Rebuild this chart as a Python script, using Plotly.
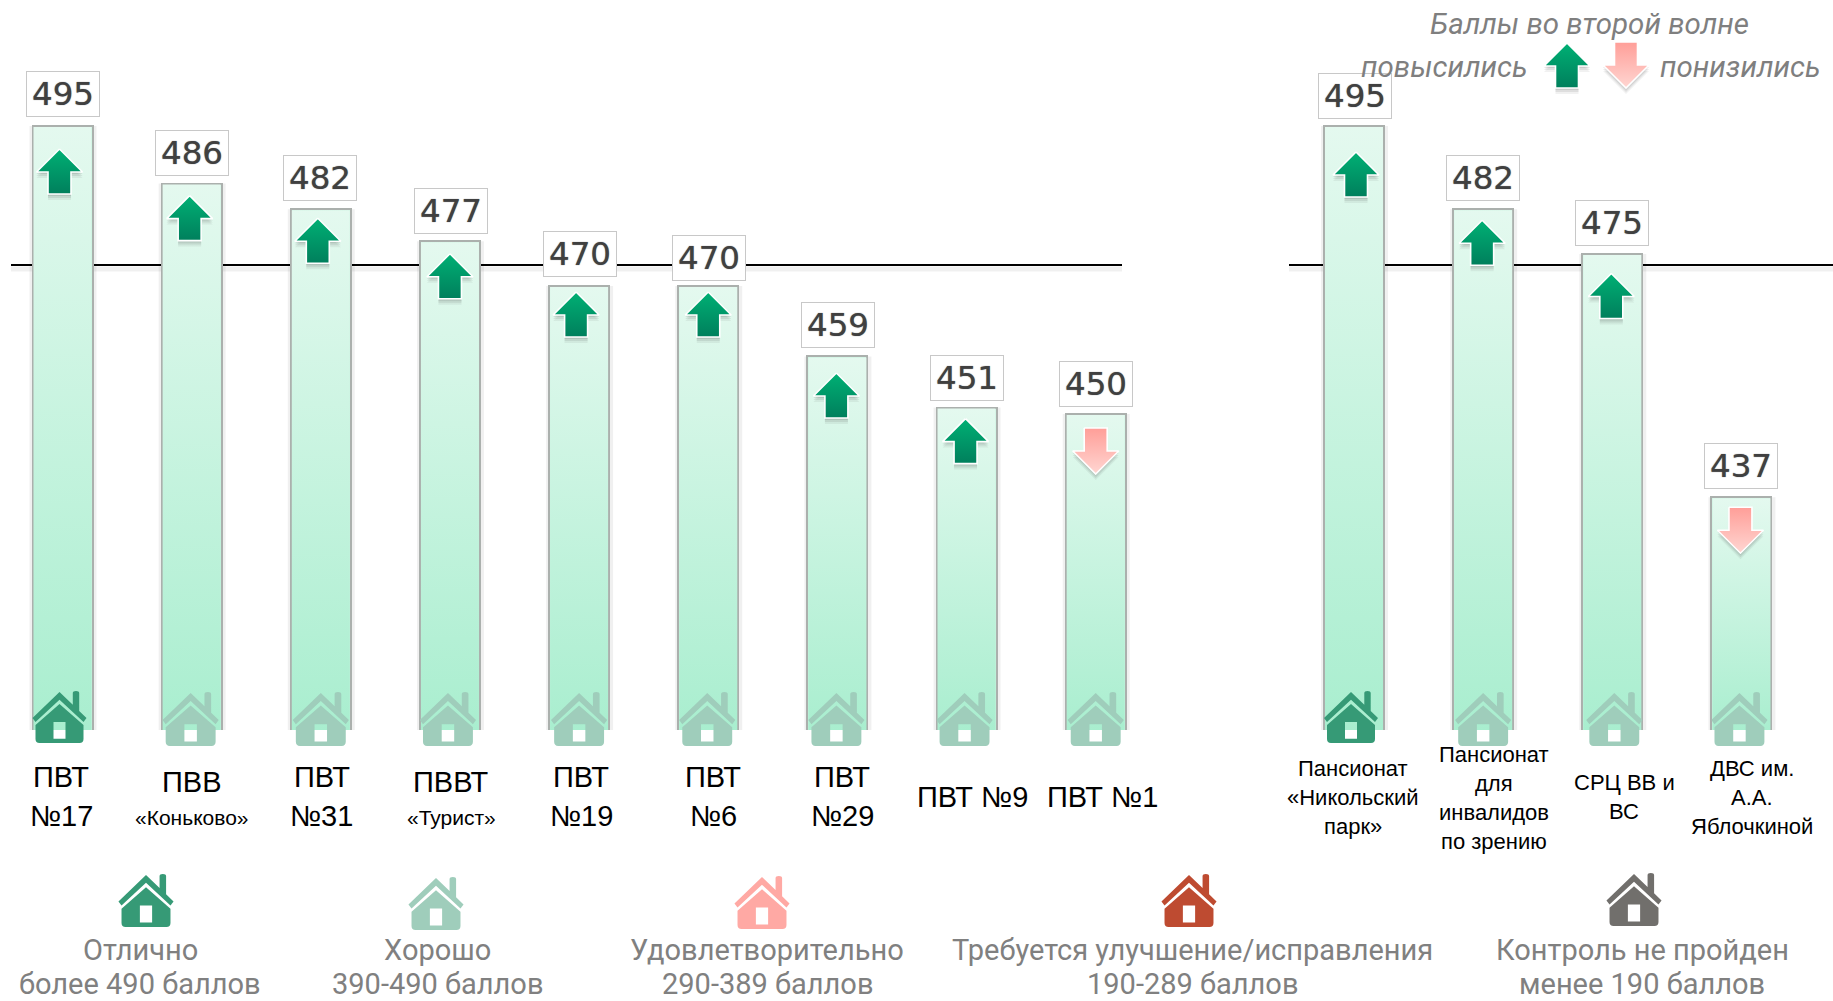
import plotly.graph_objects as go

# ---------- data ----------
left_categories = ["ПВТ<br>№17", "ПВВ<br>«Коньково»", "ПВТ<br>№31", "ПВВТ<br>«Турист»", "ПВТ<br>№19", "ПВТ<br>№6",
                   "ПВТ<br>№29", "ПВТ №9", "ПВТ №1"]
left_values = [495, 486, 482, 477, 470, 470, 459, 451, 450]
left_trend = ["up", "up", "up", "up", "up", "up", "up", "up", "down"]
left_grade = ["Отлично", "Хорошо", "Хорошо", "Хорошо", "Хорошо", "Хорошо", "Хорошо", "Хорошо", "Хорошо"]

right_categories = ["Пансионат<br>«Никольский<br>парк»", "Пансионат<br>для<br>инвалидов<br>по зрению",
                    "СРЦ ВВ и<br>ВС", "ДВС им.<br>А.А.<br>Яблочкиной"]
right_values = [495, 482, 475, 437]
right_trend = ["up", "up", "up", "down"]
right_grade = ["Отлично", "Хорошо", "Хорошо", "Хорошо"]

threshold_value = 473.3

grade_names = ["Отлично", "Хорошо", "Удовлетворительно", "Требуется улучшение/исправления", "Контроль не пройден"]
grade_ranges = ["более 490 баллов", "390-490 баллов", "290-389 баллов", "190-289 баллов", "менее 190 баллов"]
grade_colors = ["#369A76", "#9FCDBB", "#FFA9A4", "#BE4B31", "#716F6C"]

# ---------- layout tuning (pixels on the 1833x1001 canvas) ----------
W, H = 1833, 1001
SLOT = 129.15            # px per category slot
FIRST_CENTRE = 62.5
BAR_BOTTOM_PX = 730
PX_PER_POINT = 6.4
TOP_VALUE = 495 + 126 / PX_PER_POINT
LOW_VALUE = TOP_VALUE - BAR_BOTTOM_PX / PX_PER_POINT

LABEL_FONT = "Liberation Sans"
LEGEND_FONT = "Roboto"

categories = left_categories + [""] + right_categories
values = left_values + [None] + right_values
trends = left_trend + [None] + right_trend
grades = left_grade + [None] + right_grade
slots = list(range(len(categories)))

arrow_dx = [-3, -2, -3, 0, -3, 0, -1, -1, 0, 0, 2, -1, -1, -1]
arrow_gap = [23, 12, 9, 12.5, 6, 6, 16.6, 11, 14, 0, 26, 11, 19.5, 10]
box_dx = [0, 0, -1, 1, 1, 1, 1, 0, 0, 0, 1, 0, 0, 0]
box_gap = [9, 8, 8, 7, 9, 5.5, 8, 6.6, 7, 0, 7, 8, 8, 8]
label_dx = [-1.5, 0, 1, 1.5, 2, 5, 5, 6, 7, 0, -1, 11, 12, 11]
label_y = [796.5, 799.5, 796.5, 799.5, 796.5, 796.5, 796.5, 797, 797, 0, 797.5, 797.5, 796.5, 797.5]
house_dx = [-3, -1, 0, -2, 0, -1, -1, -2, 0, 0, -3, 0, 2, -2]
legend_house_x = [146, 436, 762, 1189, 1634]
legend_house_bottom = [927, 930, 929, 927, 926]
legend_text_x = [140, 437, 767, 1192, 1642]


def px_x(px):
    return (px - FIRST_CENTRE) / SLOT


def px_y(py):
    return TOP_VALUE - py / PX_PER_POINT


def arrow_points(up=True):
    """Arrow outline, in px offsets from its tip (dx, dy downwards)."""
    if up:
        return [(0, 0), (23, 23), (11.5, 23), (11.5, 45), (-11.5, 45), (-11.5, 23), (-23, 23), (0, 0)]
    return [(-11.5, 0), (11.5, 0), (11.5, 23), (23, 23), (0, 46), (-23, 23), (-11.5, 23), (-11.5, 0)]


def arrow_traces(cx, top_py, up=True):
    traces = []
    pts = arrow_points(up)
    for off, alpha in [(6, 0.07), (4, 0.10), (2, 0.12)]:
        traces.append(go.Scatter(x=[px_x(cx + p[0]) for p in pts],
                                 y=[px_y(top_py + p[1] + off) for p in pts],
                                 mode="lines", fill="toself", line=dict(width=0),
                                 fillcolor=f"rgba(60,60,60,{alpha})", hoverinfo="skip", showlegend=False))
    scale = [[0, "#007F5C"], [1, "#00B074"]] if up else [[0, "#FFD6D2"], [1, "#FF9E98"]]
    traces.append(go.Scatter(x=[px_x(cx + p[0]) for p in pts],
                             y=[px_y(top_py + p[1]) for p in pts],
                             mode="lines", fill="toself", line=dict(width=1.6, color="white"),
                             fillgradient=dict(type="vertical", colorscale=scale),
                             hoverinfo="skip", showlegend=False))
    return traces


def house_path(k=1.0):
    def p(a):
        return f"{a * k:.2f}"
    return (
        f"M 0 {p(51)} L {p(13.3)} {p(38.2)} L {p(13.3)} {p(50)} Q {p(13.3)} {p(52)} {p(16.5)} {p(52)} "
        f"Q {p(19.7)} {p(52)} {p(19.7)} {p(50)} L {p(19.7)} {p(32)} L {p(27)} {p(25)} L {p(24)} {p(21)} L 0 {p(43.3)} "
        f"L {p(-24)} {p(21)} L {p(-27)} {p(25)} Z "
        f"M 0 {p(39)} L {p(24)} {p(18)} L {p(24)} {p(4)} Q {p(24)} 0 {p(20)} 0 L {p(-20)} 0 "
        f"Q {p(-24)} 0 {p(-24)} {p(4)} L {p(-24)} {p(18)} Z "
        f"M {p(-6)} {p(4.3)} L {p(-6)} {p(21)} L {p(6)} {p(21)} L {p(6)} {p(4.3)} Z"
    )


fig = go.Figure()

# bars
bar_x = [s for s, v in zip(slots, values) if v is not None]
bar_y = [v for v in values if v is not None]
BAR_WIDTH = 60 / SLOT
fig.add_trace(go.Bar(x=bar_x, y=bar_y, width=BAR_WIDTH,
                     marker=dict(color="#C6F3DE", line=dict(color="#ABB0AD", width=2)),
                     hoverinfo="x+y", showlegend=False))

# vertical gradient over each bar, one px inside the outline
inset = 1 / SLOT
for s, v in zip(bar_x, bar_y):
    left, right = s - BAR_WIDTH / 2 + inset, s + BAR_WIDTH / 2 - inset
    top = v - 1 / PX_PER_POINT
    fig.add_trace(go.Scatter(x=[left, right, right, left, left], y=[top, top, LOW_VALUE, LOW_VALUE, top],
                             mode="lines", fill="toself", line=dict(width=0),
                             fillgradient=dict(type="vertical", colorscale=[[0, "#A9EECF"], [1, "#E4F9EF"]]),
                             hoverinfo="skip", showlegend=False))

# trend arrows
for s, v, t in zip(slots, values, trends):
    if v is None:
        continue
    bar_top_py = (TOP_VALUE - v) * PX_PER_POINT
    cx = FIRST_CENTRE + s * SLOT + arrow_dx[s]
    for tr in arrow_traces(cx, bar_top_py + arrow_gap[s], t == "up"):
        fig.add_trace(tr)

# arrows of the key, top right
for tr in arrow_traces(1567, 43, True):
    fig.add_trace(tr)
for tr in arrow_traces(1626, 42, False):
    fig.add_trace(tr)

shapes = []
# threshold lines behind the bars, with a soft shadow
for x0, x1 in [(px_x(11), px_x(1122)), (px_x(1289), px_x(1833))]:
    shapes.append(dict(type="line", layer="below", xref="x", yref="y", x0=x0, x1=x1,
                       y0=threshold_value - 4 / PX_PER_POINT, y1=threshold_value - 4 / PX_PER_POINT,
                       line=dict(color="rgba(0,0,0,0.06)", width=5)))
    shapes.append(dict(type="line", layer="below", xref="x", yref="y", x0=x0, x1=x1,
                       y0=threshold_value, y1=threshold_value, line=dict(color="#000000", width=2)))

# faint shadow at the sides of the bars
for s, v in zip(bar_x, bar_y):
    shapes.append(dict(type="rect", layer="below", xref="x", yref="y",
                       x0=s - BAR_WIDTH / 2 - 3 / SLOT, x1=s + BAR_WIDTH / 2 + 4 / SLOT, y0=LOW_VALUE, y1=v,
                       fillcolor="rgba(0,0,0,0.06)", line=dict(width=0)))

# bar-foot houses
grade_color = dict(zip(grade_names, grade_colors))
for s, g in zip(slots, grades):
    if g is None:
        continue
    bottom = 743 if g == "Отлично" else 746
    k = 1.0 if g == "Отлично" else 1.04
    shapes.append(dict(type="path", xref="paper", yref="paper", xsizemode="pixel", ysizemode="pixel",
                       xanchor=(FIRST_CENTRE + s * SLOT + house_dx[s]) / W, yanchor=1 - bottom / H,
                       path=house_path(k), fillcolor=grade_color[g], fillrule="evenodd",
                       line=dict(width=0), layer="above"))

# key houses
for cx, bot, col in zip(legend_house_x, legend_house_bottom, grade_colors):
    shapes.append(dict(type="path", xref="paper", yref="paper", xsizemode="pixel", ysizemode="pixel",
                       xanchor=cx / W, yanchor=1 - bot / H, path=house_path(1.02), fillcolor=col,
                       fillrule="evenodd", line=dict(width=0), layer="above"))

annotations = []
# value boxes
for s, v in zip(slots, values):
    if v is None:
        continue
    annotations.append(dict(x=s, y=v, xref="x", yref="y", text=str(v), showarrow=False,
                            xanchor="center", yanchor="bottom", yshift=box_gap[s], xshift=box_dx[s],
                            width=72, height=44, align="center", valign="middle",
                            font=dict(family="DejaVu Sans", size=32.5, color="#404040",
                                      shadow="0 0 1px rgba(64,64,64,0.8)"),
                            bgcolor="#FFFFFF", bordercolor="#C8C8C8", borderwidth=1, borderpad=0))

# category labels, placed line by line
for s, c in zip(slots, categories):
    if not c:
        continue
    lines = c.split("<br>")
    small_second = lines[-1].startswith("«") and s < 9
    spacing = 35 if small_second else (39 if s < 9 else 29)
    for k, line in enumerate(lines):
        size = 29 if s < 9 else 22
        if small_second and k == 1:
            size = 21
        py = label_y[s] + (k - (len(lines) - 1) / 2) * spacing
        annotations.append(dict(x=s, y=1 - py / H, xref="x", yref="paper", text=line, showarrow=False,
                                xanchor="center", yanchor="middle", xshift=label_dx[s], align="center",
                                font=dict(family=LABEL_FONT, size=size, color="#000000")))

# key of grades: each line placed on its own, the lower one kept inside the canvas
for cx, n, r in zip(legend_text_x, grade_names, grade_ranges):
    for txt, py in [(n, 950), (r, 984)]:
        annotations.append(dict(x=cx / W, y=1 - py / H, xref="paper", yref="paper", text=txt,
                                showarrow=False, xanchor="center", yanchor="middle", align="center",
                                font=dict(family=LEGEND_FONT, size=29, color="#808080")))

# key of arrows
for txt, cx, cy in [("<i>Баллы во второй волне</i>", 1589, 24), ("<i>повысились</i>", 1444, 67), ("<i>понизились</i>", 1740, 67)]:
    annotations.append(dict(x=cx / W, y=1 - cy / H, xref="paper", yref="paper", text=txt, showarrow=False,
                            xanchor="center", yanchor="middle",
                            font=dict(family=LEGEND_FONT, size=29.5, color="#7F7F7F")))

fig.update_layout(
    width=W, height=H, margin=dict(l=0, r=0, t=0, b=0), autosize=False,
    paper_bgcolor="white", plot_bgcolor="rgba(0,0,0,0)", showlegend=False,
    xaxis=dict(range=[px_x(0), px_x(W)], visible=False, domain=[0, 1], fixedrange=True),
    yaxis=dict(range=[LOW_VALUE, TOP_VALUE], visible=False, domain=[1 - BAR_BOTTOM_PX / H, 1], fixedrange=True),
    shapes=shapes, annotations=annotations, bargap=0,
)

fig.write_html("out.html", post_script="document.body.style.margin='0';document.body.style.overflow='hidden';",
               config={"displayModeBar": False})
